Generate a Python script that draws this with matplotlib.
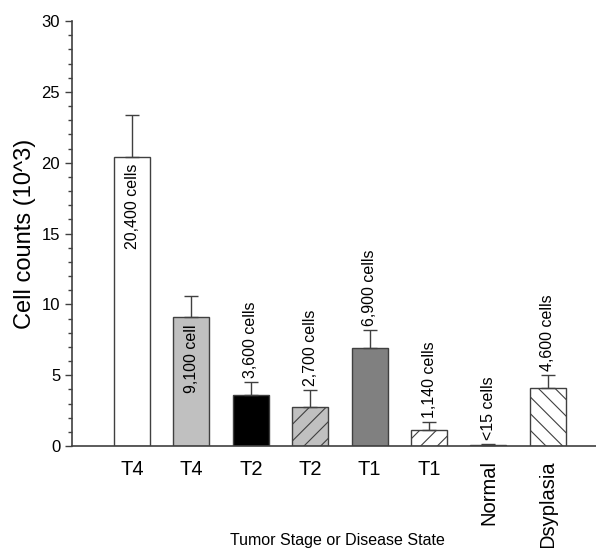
import matplotlib

matplotlib.use("Agg")
import matplotlib.pyplot as plt
import numpy as np
from matplotlib.ticker import MultipleLocator

# Data (values in thousands of cells)
categories = ["T4", "T4", "T2", "T2", "T1", "T1", "Normal", "Dsyplasia"]
counts = [20.4, 9.1, 3.6, 2.75, 6.9, 1.13, 0.05, 4.1]
err_upper = [3.0, 1.5, 0.9, 1.2, 1.3, 0.55, 0.1, 0.9]
labels = ["20,400 cells", "9,100 cell", "3,600 cells", "2,700 cells",
          "6,900 cells", "1,140 cells", "<15 cells", "4,600 cells"]
label_inside = [True, True, False, False, False, False, False, False]
face_colors = ["white", "#c0c0c0", "black", "#c0c0c0", "#808080", "white", "white", "white"]
hatches = ["", "", "", "//", "", "//", "", "\\\\"]

plt.rcParams["font.family"] = ["Liberation Sans", "DejaVu Sans"]
plt.rcParams["hatch.linewidth"] = 0.8

edge = "#404040"
fig = plt.figure(figsize=(5.96, 5.48), dpi=100)
ax = fig.add_axes([72 / 596, 1 - 446 / 548, 1 - 72 / 596, (446 - 21) / 548])

x = np.arange(len(categories))
ax.bar(x, counts, width=0.606, color=face_colors, edgecolor=edge, linewidth=1.0,
       hatch=hatches, zorder=2)
ax.errorbar(x, counts, yerr=[np.zeros(len(x)), err_upper], fmt="none",
            ecolor=edge, elinewidth=1.0, capsize=5, capthick=1.0, zorder=3)

for xi, h, e, lab, inside in zip(x, counts, err_upper, labels, label_inside):
    if inside:
        ax.text(xi, h - 0.5, lab, rotation=90, ha="center", va="top", fontsize=11.5)
    else:
        ax.text(xi, h + e + 0.3, lab, rotation=90, ha="center", va="bottom", fontsize=11.5)

ax.set_xlim(-1.01, 7.81)
ax.set_ylim(0, 30)
ax.yaxis.set_major_locator(MultipleLocator(5))
ax.yaxis.set_minor_locator(MultipleLocator(1))
ax.tick_params(axis="y", which="major", length=5, width=1.0, color=edge, labelsize=12)
ax.tick_params(axis="y", which="minor", length=3, width=1.0, color=edge)
ax.set_xticks(x)
ax.set_xticklabels(categories, fontsize=14.5)
for t in ax.get_xticklabels()[6:]:
    t.set_rotation(90)
ax.tick_params(axis="x", length=0, pad=10)

for s in ["top", "right"]:
    ax.spines[s].set_visible(False)
for s in ["left", "bottom"]:
    ax.spines[s].set_color(edge)
    ax.spines[s].set_linewidth(1.2)

ax.set_ylabel("Cell counts (10^3)", fontsize=17, labelpad=4)
fig.text(337 / 596, 1 - 533 / 548, "Tumor Stage or Disease State", ha="center", va="top",
         fontsize=11.5)

fig.savefig("out.png", dpi=100)
